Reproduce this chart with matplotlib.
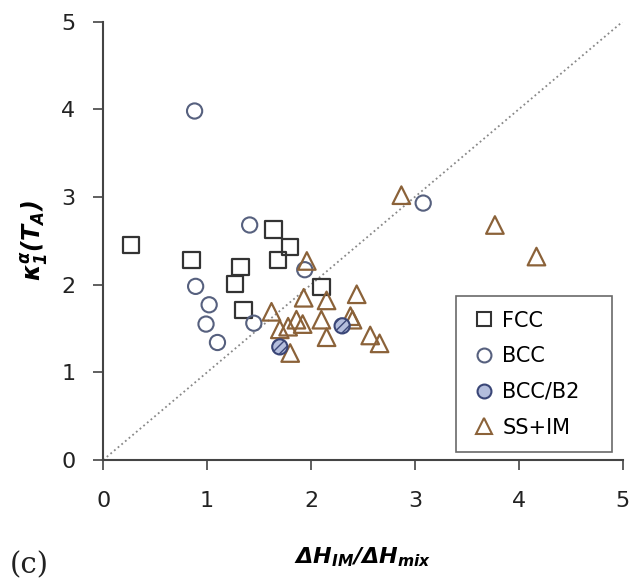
import matplotlib
matplotlib.use('Agg')
import matplotlib.pyplot as plt
from matplotlib.lines import Line2D

# Data (panel c)
fcc_x = [0.27, 0.85, 1.27, 1.32, 1.35, 1.64, 1.68, 1.80, 2.10]
fcc_y = [2.45, 2.28, 2.01, 2.20, 1.71, 2.63, 2.28, 2.43, 1.97]

bcc_x = [0.88, 0.89, 0.99, 1.02, 1.10, 1.41, 1.45, 1.94, 3.08]
bcc_y = [3.98, 1.98, 1.55, 1.77, 1.34, 2.68, 1.56, 2.17, 2.93]

b2_x = [1.70, 2.30]
b2_y = [1.29, 1.53]

ssim_x = [1.62, 1.70, 1.78, 1.80, 1.86, 1.92, 1.93, 1.96, 2.10, 2.15,
          2.15, 2.38, 2.40, 2.44, 2.57, 2.66, 2.87, 3.77, 4.17]
ssim_y = [1.69, 1.49, 1.52, 1.22, 1.60, 1.55, 1.85, 2.27, 1.60, 1.82,
          1.40, 1.64, 1.60, 1.89, 1.42, 1.33, 3.02, 2.68, 2.32]

labels = ['FCC', 'BCC', 'BCC/B2', 'SS+IM']
ticks = [0, 1, 2, 3, 4, 5]

sq_col = '#333333'
bcc_col = '#56607e'
b2_edge = '#3a4677'
b2_face = '#b4bedd'
tri_col = '#8b6239'

plt.rcParams['mathtext.fontset'] = 'custom'
plt.rcParams['mathtext.rm'] = 'DejaVu Sans:bold:italic'
plt.rcParams['mathtext.it'] = 'DejaVu Sans:bold:italic'
plt.rcParams['mathtext.bf'] = 'DejaVu Sans:bold:italic'

fig = plt.figure(figsize=(6.29, 5.83), dpi=100)
ax = fig.add_axes([0.164, 0.211, 0.826, 0.752])

# 1:1 line
ax.plot([0, 5], [0, 5], linestyle=':', color='#888888', linewidth=1.3, zorder=1)

ax.scatter(fcc_x, fcc_y, marker='s', s=140, facecolors='none', edgecolors=sq_col, linewidths=1.6, zorder=3)
ax.scatter(bcc_x, bcc_y, marker='o', s=120, facecolors='none', edgecolors=bcc_col, linewidths=1.5, zorder=3)
ax.scatter(b2_x, b2_y, marker='o', s=120, facecolors=b2_face, edgecolors=b2_edge, linewidths=1.5,
           hatch='////', zorder=4)
ax.scatter(ssim_x, ssim_y, marker='^', s=160, facecolors='none', edgecolors=tri_col, linewidths=1.6, zorder=3)

ax.set_xlim(0, 5)
ax.set_ylim(0, 5)
ax.set_xticks(ticks)
ax.set_yticks(ticks)
ax.tick_params(direction='out', length=7, width=1.2, color='#444444', labelsize=16, labelcolor='#222222')
ax.tick_params(axis='x', pad=15)
ax.tick_params(axis='y', pad=13)
for side in ['top', 'right']:
    ax.spines[side].set_visible(False)
for side in ['left', 'bottom']:
    ax.spines[side].set_color('#444444')
    ax.spines[side].set_linewidth(1.5)

ax.set_xlabel(r'$\Delta H_{IM}/\Delta H_{mix}$', fontsize=16)
ax.xaxis.set_label_coords(0.5, -0.195)
ax.set_ylabel(r'$\kappa_1^{\alpha}(T_A)$', fontsize=17)
ax.yaxis.set_label_coords(-0.102, 0.5)

handles = [
    Line2D([], [], marker='s', linestyle='none', markersize=10, markerfacecolor='none',
           markeredgecolor=sq_col, markeredgewidth=1.5),
    Line2D([], [], marker='o', linestyle='none', markersize=10, markerfacecolor='none',
           markeredgecolor=bcc_col, markeredgewidth=1.5),
    Line2D([], [], marker='o', linestyle='none', markersize=10, markerfacecolor=b2_face,
           markeredgecolor=b2_edge, markeredgewidth=1.5),
    Line2D([], [], marker='^', linestyle='none', markersize=11, markerfacecolor='none',
           markeredgecolor=tri_col, markeredgewidth=1.5),
]
leg = ax.legend(handles, labels, loc='lower left', bbox_to_anchor=(0.68, 0.018, 0.30, 0.366),
                mode='expand', fontsize=15, frameon=True, fancybox=False, handletextpad=0.3,
                handlelength=1.2, borderpad=0.7, labelspacing=0.75, borderaxespad=0)
leg.get_frame().set_edgecolor('#444444')
leg.get_frame().set_linewidth(1.2)

fig.text(0.015, 0.031, '(c)', fontsize=21, family='DejaVu Serif', color='#222222', va='center')

fig.savefig('out.png', dpi=100)
